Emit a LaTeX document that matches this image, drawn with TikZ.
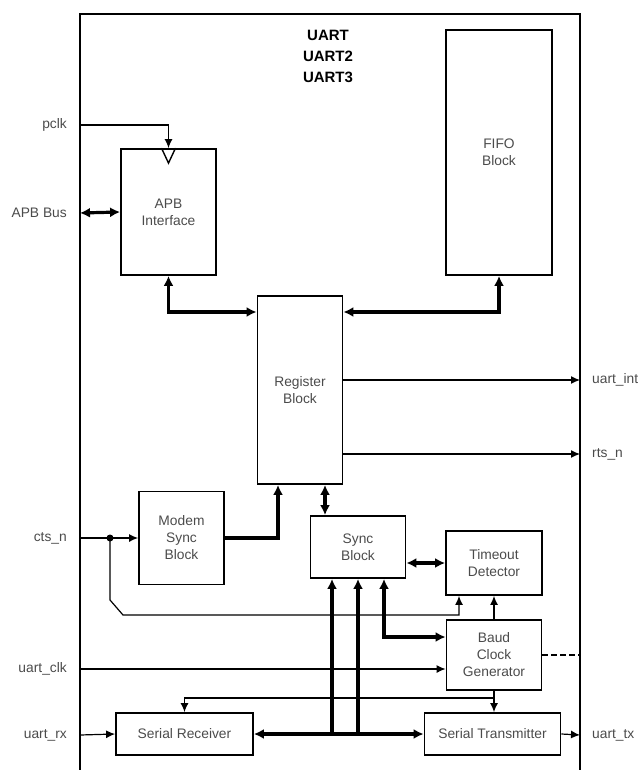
\documentclass[tikz,border=0pt]{standalone}
\usepackage{fontspec}
\setmainfont{Liberation Sans}
\usetikzlibrary{arrows.meta,calc}
\definecolor{txtgray}{RGB}{75,75,75}

\begin{document}
\begin{tikzpicture}[x=1pt,y=-1pt,
  blk/.style={draw,line width=1.8pt,align=center,text=txtgray,font=\fontsize{13.8}{17}\selectfont,inner sep=0pt},
  lbl/.style={text=txtgray,font=\fontsize{13.8}{17}\selectfont,inner sep=0pt},
  bus/.style={line width=3.2pt,>={Latex[length=10pt,width=10pt]}},
  sig/.style={line width=1.2pt,>={Latex[length=9pt,width=8pt]}}]
\useasboundingbox (0,0) rectangle (638,770);
\draw[line width=2.6pt] (80,775) -- (80,14) -- (580,14) -- (580,775);
\node[font=\bfseries\fontsize{15}{21}\selectfont,align=center] (title) at (328,56) {UART\\UART2\\UART3};
\node[blk,minimum width=95,minimum height=126] (apb) at (168.5,212) {APB\\Interface};
\node[blk,minimum width=106,minimum height=245] (fifo) at (499,152.5) {FIFO\\Block};
\node[blk,minimum width=85,minimum height=188] (reg) at (300,390) {Register\\Block};
\node[blk,minimum width=85,minimum height=93] (modem) at (181.5,538) {Modem\\Sync\\Block};
\node[blk,minimum width=95,minimum height=62] (sync) at (358,547) {Sync\\Block};
\node[blk,minimum width=96,minimum height=64] (tmo) at (494,563) {Timeout\\Detector};
\node[blk,minimum width=95,minimum height=70] (baud) at (494,655) {Baud\\Clock\\Generator};
\node[blk,minimum width=137,minimum height=42] (rx) at (184.5,734) {Serial Receiver};
\node[blk,minimum width=136,minimum height=42] (tx) at (492.5,734) {Serial Transmitter};
\foreach \n/\y/\t in {pclk/125/pclk,apbbus/213/APB Bus,cts/538/cts\_n,clk/669/uart\_clk,urx/735/uart\_rx} {\node[lbl,anchor=east] (\n lbl) at (67,\y) {\t}; \coordinate (\n in) at (80,\y);}
\foreach \n/\y/\t in {int/380/uart\_int,rts/454/rts\_n,utx/735/uart\_tx} {\node[lbl,anchor=west] (\n lbl) at (592,\y) {\t}; \coordinate (\n out) at (580,\y);}
\coordinate (bushi) at (0,312);
\coordinate (ctsdot) at (110,538);
\coordinate (clkrow) at (494,698);
\draw[line width=1.4pt] ([xshift=-7pt]apb.north) -- ([yshift=-15pt]apb.north) -- ([xshift=7pt]apb.north);
\draw[sig,->] (pclkin) -| (apb.north);
\draw[bus,<->] (apbbusin) -- (apb.west);
\draw[bus,<->] (apb.south) |- (reg.west |- bushi);
\draw[bus,<->] (fifo.south) |- (reg.east |- bushi);
\draw[sig,->] (reg.east |- intout) -- (intout);
\draw[sig,->] (reg.east |- rtsout) -- (rtsout);
\draw[sig,->] (ctsin) -- (modem.west);
\fill (ctsdot) circle[radius=3.5pt];
\draw[sig,->] (ctsdot) -- ++(0,62) -- ++(13,15) -| ([xshift=-35pt]tmo.south);
\draw[bus,->] (modem.east) -| ([xshift=-22pt]reg.south);
\draw[bus,<->] ([xshift=25pt]reg.south) -- ([xshift=25pt]reg.south |- sync.north);
\draw[bus,<->] (sync.east |- tmo.west) -- (tmo.west);
\draw[sig,->] (baud.north) -- (tmo.south);
\foreach \dx in {-26,0} {\draw[bus,<-] ([xshift=\dx pt]sync.south) -- ([xshift=\dx pt]sync.south |- rx.east);}
\draw[bus,<->] ([xshift=26pt]sync.south) |- ([yshift=18pt]baud.west);
\draw[bus,<->] (rx.east) -- (tx.west);
\draw[sig,->] (clkin) -- (clkin -| baud.west);
\draw[sig,->] (baud.south) -- (baud.south |- tx.north);
\draw[sig,->] (clkrow) -| (rx.north);
\draw[sig,->] (urxin) -- (rx.west);
\draw[sig,->] (tx.east) -- (utxout);
\draw[sig,dash pattern=on 6pt off 3pt] (baud.east) -- (baud.east -| utxout);
\end{tikzpicture}
\end{document}
